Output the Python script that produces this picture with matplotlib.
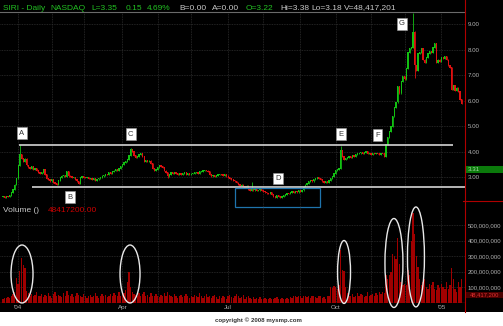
import numpy as np
import matplotlib.pyplot as plt
from matplotlib.patches import Rectangle, Ellipse
import matplotlib.transforms as mtrans

plt.rcParams['font.family'] = ['Liberation Sans', 'DejaVu Sans']

# daily closes, one per trading day, mid Dec 2003 .. mid Jan 2005
closes = [
    2.25, 2.22, 2.26, 2.24, 2.28, 2.40, 2.52, 2.70, 2.97, 3.45,
    3.90, 3.75, 3.60, 3.72, 3.48, 3.40, 3.35, 3.42, 3.30, 3.36,
    3.28, 3.20, 3.15, 3.18, 3.30, 3.10, 2.95, 2.90, 2.85, 2.92,
    2.80, 2.75, 2.70, 2.88, 3.00, 3.05, 3.08, 3.02, 3.22, 3.05,
    3.02, 2.98, 3.00, 2.92, 2.85, 2.75, 2.98, 3.02, 3.00, 2.98,
    3.00, 2.95, 2.96, 2.90, 2.95, 2.88, 2.93, 2.97, 3.00, 3.05,
    3.08, 3.12, 3.10, 3.18, 3.15, 3.22, 3.25, 3.30, 3.28, 3.35,
    3.42, 3.50, 3.58, 3.62, 3.70, 3.85, 4.08, 4.02, 3.85, 3.78,
    3.82, 3.88, 3.92, 3.80, 3.62, 3.66, 3.60, 3.64, 3.55, 3.35,
    3.28, 3.32, 3.40, 3.45, 3.42, 3.38, 3.25, 3.20, 3.05, 3.12,
    3.18, 3.15, 3.20, 3.15, 3.12, 3.16, 3.10, 3.14, 3.18, 3.12,
    3.15, 3.10, 3.13, 3.16, 3.18, 3.20, 3.15, 3.22, 3.24, 3.26,
    3.28, 3.25, 3.22, 3.10, 3.05, 3.08, 3.02, 3.06, 3.10, 3.12,
    3.10, 3.08, 3.12, 3.05, 3.00, 2.95, 2.90, 2.88, 2.85, 2.78,
    2.72, 2.68, 2.70, 2.64, 2.60, 2.66, 2.52, 2.48, 2.55, 2.50,
    2.52, 2.48, 2.50, 2.53, 2.49, 2.45, 2.42, 2.38, 2.35, 2.40,
    2.33, 2.25, 2.22, 2.28, 2.24, 2.20, 2.26, 2.30, 2.33, 2.38,
    2.35, 2.40, 2.44, 2.40, 2.45, 2.42, 2.48, 2.44, 2.50, 2.62,
    2.70, 2.75, 2.82, 2.88, 2.85, 2.90, 2.95, 3.00, 2.96, 2.92,
    2.85, 2.80, 2.84, 2.78, 2.88, 2.95, 3.02, 3.15, 3.28, 3.30,
    3.35, 4.05, 3.80, 3.70, 3.75, 3.78, 3.82, 3.76, 3.85, 3.80,
    3.88, 3.92, 3.95, 3.98, 3.93, 3.97, 4.00, 3.93, 3.95, 3.90,
    3.94, 3.92, 3.95, 3.93, 3.90, 3.94, 3.92, 3.80, 4.30, 4.55,
    4.80, 5.00, 5.40, 5.75, 5.95, 6.55, 6.30, 6.75, 6.95, 6.85,
    7.25, 7.90, 8.05, 8.10, 8.70, 7.40, 7.20, 7.85, 7.90, 8.05,
    7.60, 7.50, 7.70, 7.85, 7.95, 7.90, 8.10, 8.25, 7.50, 7.60,
    7.55, 7.70, 7.65, 7.75, 7.60, 7.40, 7.30, 6.45, 6.60, 6.40,
    6.50, 6.35, 6.05, 5.90,
]

# volume in millions
volumes = [
    25, 30, 28, 35, 30, 40, 55, 70, 160, 120,
    205, 290, 240, 220, 75, 60, 45, 55, 40, 50,
    65, 45, 40, 55, 35, 50, 40, 60, 45, 30,
    55, 70, 45, 50, 40, 35, 60, 45, 75, 50,
    40, 55, 35, 45, 60, 50, 40, 35, 55, 45,
    30, 40, 50, 35, 45, 60, 40, 30, 45, 55,
    40, 50, 35, 45, 55, 40, 60, 50, 45, 70,
    45, 55, 60, 80, 130, 195, 100, 70, 55, 50,
    45, 60, 40, 55, 70, 45, 50, 35, 60, 45,
    40, 55, 45, 35, 50, 40, 60, 45, 70, 50,
    40, 35, 55, 45, 30, 40, 50, 35, 45, 55,
    40, 30, 45, 35, 50, 40, 35, 60, 45, 30,
    40, 55, 35, 45, 30, 40, 50, 35, 25, 40,
    30, 45, 35, 25, 40, 50, 35, 30, 45, 55,
    40, 30, 35, 50, 25, 35, 45, 30, 25, 35,
    20, 30, 25, 35, 20, 25, 30, 20, 25, 30,
    20, 25, 30, 35, 25, 20, 30, 25, 20, 30,
    25, 35, 30, 45, 40, 35, 45, 40, 30, 45,
    40, 35, 45, 30, 40, 45, 35, 30, 40, 45,
    30, 35, 25, 40, 45, 100, 95, 105, 100, 90,
    110, 340, 210, 205, 100, 60, 45, 40, 55, 35,
    45, 60, 40, 55, 50, 35, 45, 65, 40, 50,
    55, 45, 60, 50, 70, 55, 65, 60, 180, 150,
    180, 200, 310, 300, 280, 415, 250, 130, 110, 120,
    110, 210, 180, 400, 575, 445, 300, 230, 150, 110,
    130, 150, 100, 90, 120, 110, 130, 85, 80, 110,
    95, 120, 100, 90, 130, 85, 110, 220, 150, 90,
    70, 130, 100, 150,
]

# intraday extremes that stick out of the bodies (bar index -> price)
spike_highs = {10: 4.26, 76: 4.15, 148: 2.82, 201: 4.22, 244: 9.45}
spike_lows = {98: 2.97, 245: 6.90}

month_starts = [9, 29, 48, 71, 92, 112, 134, 155, 177, 198, 219, 239, 261]
date_ticks = [9, 71, 134, 198, 261]
date_labels = ["'04", "Apr", "Jul", "Oct", "'05"]

price_ticks = [3, 4, 5, 6, 7, 8, 9]
vol_ticks = [100, 200, 300, 400, 500]

resistance = 4.26
support = 2.61
last_price = 3.31
last_vol = 48.4

labels = {'A': (11.3, 4.73), 'B': (40, 2.22), 'C': (76, 4.69), 'D': (163.5, 2.95),
          'E': (201, 4.69), 'F': (223, 4.65), 'G': (237.5, 9.01)}

W, H = 503, 326
fig = plt.figure(figsize=(W / 100, H / 100), dpi=100)
fig.patch.set_facecolor('white')
fig.patches.append(Rectangle((0, 1 - 312 / H), 1, 312 / H, transform=fig.transFigure,
                             facecolor='black', edgecolor='none', zorder=-10))

ax_p = fig.add_axes([0, 1 - 201 / H, 465 / W, 189 / H])
ax_v = fig.add_axes([0, 1 - 302.5 / H, 465 / W, 101.5 / H])

n = len(closes)
x = np.arange(n)
c = np.array(closes)
o = np.r_[c[0], c[:-1]]
hi = np.maximum(o, c) + 0.02
lo = np.minimum(o, c) - 0.02
for k, v in spike_highs.items():
    hi[k] = v
for k, v in spike_lows.items():
    lo[k] = v
up = c >= o
cols = np.where(up, '#12c012', '#e01010')

for ax in (ax_p, ax_v):
    ax.set_facecolor('none')
    for s in ax.spines.values():
        s.set_visible(False)
    ax.set_xlim(-1.8, 275)
    for m in month_starts:
        ax.axvline(m, color='#2e2e2e', lw=0.6, ls=(0, (1, 1)), zorder=1)

# price panel
ax_p.set_ylim(2.07, 9.48)
for p in price_ticks:
    ax_p.axhline(p, color='#2e2e2e', lw=0.6, ls=(0, (1, 1)), zorder=1)
ax_p.vlines(x, lo, hi, colors=cols, lw=0.6, zorder=3)
ax_p.bar(x, np.abs(c - o) + 0.03, bottom=np.minimum(o, c) - 0.015, width=0.75,
         color=cols, zorder=4)
ax_p.spines['top'].set_visible(True)
ax_p.spines['top'].set_color('#6a6a6a')
ax_p.set_xticks([])
ax_p.yaxis.tick_right()
ax_p.set_yticks(price_ticks)
ax_p.set_yticklabels(['%.2f' % p for p in price_ticks])
ax_p.tick_params(axis='y', length=0, pad=2, labelsize=4.4, labelcolor='#b0b0b0')

ax_p.hlines(resistance, 9.5, 268, color='#d4d4d4', lw=1.2, zorder=5)
ax_p.hlines(support, 17.3, 275, color='#d4d4d4', lw=1.2, zorder=5, clip_on=False)
ax_p.add_patch(Rectangle((138, 1.835), 50.7, 0.74, fill=False, edgecolor='#1f74ad',
                         lw=0.9, clip_on=False, zorder=6))
for t, (lx, ly) in labels.items():
    ax_p.text(lx, ly, t, ha='center', va='center', fontsize=5.5, color='#333333',
              zorder=7, bbox=dict(boxstyle='square,pad=0.3', fc='white', ec='#999999', lw=0.4))

tr = mtrans.blended_transform_factory(ax_p.transAxes, ax_p.transData)
ax_p.add_patch(Rectangle((1.0, last_price - 0.14), 38 / 465, 0.28, transform=tr,
                         facecolor='#0b7a0b', edgecolor='none', clip_on=False))
ax_p.text(1.005, last_price, '%.2f' % last_price, transform=tr, fontsize=4.4,
          color='#a8d8a8', va='center', ha='left')

# volume panel
ax_v.set_ylim(0, 655)
for v in vol_ticks:
    ax_v.axhline(v, color='#2e2e2e', lw=0.6, ls=(0, (1, 1)), zorder=1)
ax_v.bar(x, volumes, width=0.8, color='#a00000', zorder=3)
ax_v.axhline(0, color='#b00000', lw=1.0, zorder=4)
ax_v.yaxis.tick_right()
ax_v.set_yticks(vol_ticks)
ax_v.set_yticklabels(['{:,}'.format(v * 1000000) for v in vol_ticks])
ax_v.tick_params(axis='y', length=0, pad=2, labelsize=4.3, labelcolor='#b0b0b0')
ax_v.set_xticks(date_ticks)
ax_v.set_xticklabels(date_labels)
ax_v.tick_params(axis='x', length=0, pad=2, labelsize=4.5, labelcolor='#b0b0b0')

for cx, cy, w, h in [(11.3, 184, 13.1, 374), (75.6, 184, 11.9, 374), (203, 197, 7.7, 406),
                     (232.7, 255, 10.7, 574), (245.8, 294, 10.1, 645)]:
    ax_v.add_patch(Ellipse((cx, cy), w, h, fill=False, edgecolor='#e8e8e8', lw=1.0,
                           clip_on=False, zorder=6))

trv = mtrans.blended_transform_factory(ax_v.transAxes, ax_v.transData)
ax_v.add_patch(Rectangle((1.0, last_vol - 22), 38 / 465, 44, transform=trv,
                         facecolor='#4a0000', edgecolor='none', clip_on=False))
ax_v.text(1.01, last_vol, '{:,}'.format(48417200), transform=trv, fontsize=4.2,
          color='#e03030', va='center', ha='left')

ax_v.text(3 / 465, 0.91, 'Volume ()', transform=ax_v.transAxes, fontsize=6,
          color='#c8c8c8', va='center')
ax_v.text(48 / 465, 0.91, '48417200.00', transform=ax_v.transAxes, fontsize=6,
          color='#cc0000', va='center')

# frame lines of the right scale
fig.add_artist(plt.Line2D([465 / W, 465 / W], [1 - 312 / H, 1], color='#b00000', lw=0.8))
fig.add_artist(plt.Line2D([463 / W, 1], [1 - 201 / H, 1 - 201 / H], color='#b00000', lw=0.8))

# header
green, grey = '#22c022', '#c8c8c8'
header = [(2.7, 'SIRI - Daily', green), (50.7, 'NASDAQ', green), (91.7, 'L=3.35', green),
          (126, '0.15', green), (147, '4.69%', green), (179, 'B=0.00', grey),
          (212, 'A=0.00', grey), (246, 'O=3.22', green), (280, 'Hi=3.38', grey),
          (311, 'Lo=3.18', grey), (344, 'V=48,417,201', grey)]
for px, s, col in header:
    fig.text(px / W, 1 - 8 / H, s, fontsize=6.0, color=col, va='center', ha='left')

fig.text(258 / W, 1 - 320 / H, 'copyright \u00a9 2008 mysmp.com', fontsize=4.4,
         fontweight='bold', color='#333333', ha='center', va='center')

fig.savefig('out.png', dpi=100, facecolor=fig.get_facecolor())
